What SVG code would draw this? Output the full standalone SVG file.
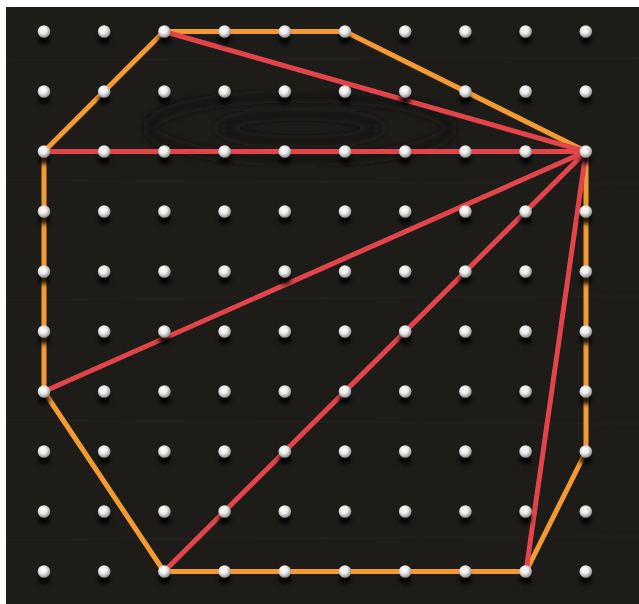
<svg xmlns="http://www.w3.org/2000/svg" width="639" height="604" viewBox="0 0 639 604">
<defs>
<radialGradient id="pegGrad" cx="0.42" cy="0.38" r="0.65">
<stop offset="0" stop-color="#ffffff"/>
<stop offset="0.45" stop-color="#ebebeb"/>
<stop offset="1" stop-color="#858585"/>
</radialGradient>
<filter id="blur" x="-1" y="-1" width="3" height="3"><feGaussianBlur stdDeviation="2.2"/></filter>
<filter id="grainBlur"><feGaussianBlur stdDeviation="4"/></filter>
<g id="peg">
<ellipse cx="0" cy="8" rx="6" ry="5" fill="#000" opacity="0.85" filter="url(#blur)"/>
<circle cx="0" cy="0" r="6.3" fill="url(#pegGrad)"/>
</g>
</defs>
<style>
.board{fill:#1d1c19}
.grain{fill:none;stroke:#181715;stroke-width:8;filter:url(#grainBlur)}
.stripe{stroke:#21201d;stroke-width:2}
.orange{fill:none;stroke:#f39b32;stroke-width:5;stroke-linejoin:round;stroke-linecap:round}
.red{fill:none;stroke:#e2444a;stroke-width:5;stroke-linecap:round}
</style>
<rect width="639" height="604" fill="#ffffff"/>
<g id="board">
<rect class="board" x="6" y="7" width="633" height="597"/>
<line class="stripe" x1="6" y1="60" x2="639" y2="58"/>
<line class="stripe" x1="6" y1="180" x2="639" y2="184"/>
<line class="stripe" x1="6" y1="300" x2="639" y2="296"/>
<line class="stripe" x1="6" y1="420" x2="639" y2="424"/>
<line class="stripe" x1="6" y1="540" x2="639" y2="536"/>
<ellipse class="grain" cx="300" cy="128" rx="150" ry="32"/>
<ellipse class="grain" cx="300" cy="128" rx="80" ry="14"/>
</g>
<g id="connectors">
<polygon id="octagon" class="orange" points="164,31.5 345,31.5 586,151.5 586,451.5 526,571.5 164,571.5 44,391.5 44,151.5"/>
<line class="red" x1="586" y1="151.5" x2="164" y2="31.5"/>
<line class="red" x1="586" y1="151.5" x2="44" y2="151.5"/>
<line class="red" x1="586" y1="151.5" x2="44" y2="391.5"/>
<line class="red" x1="586" y1="151.5" x2="164" y2="571.5"/>
<line class="red" x1="586" y1="151.5" x2="526" y2="571.5"/>
</g>
<g id="pegs">
<g id="row0"><use href="#peg" x="44" y="31.5"/><use href="#peg" x="104.2" y="31.5"/><use href="#peg" x="164.4" y="31.5"/><use href="#peg" x="224.6" y="31.5"/><use href="#peg" x="284.8" y="31.5"/><use href="#peg" x="345" y="31.5"/><use href="#peg" x="405.2" y="31.5"/><use href="#peg" x="465.4" y="31.5"/><use href="#peg" x="525.6" y="31.5"/><use href="#peg" x="585.8" y="31.5"/></g>
<g id="row1"><use href="#peg" x="44" y="91.5"/><use href="#peg" x="104.2" y="91.5"/><use href="#peg" x="164.4" y="91.5"/><use href="#peg" x="224.6" y="91.5"/><use href="#peg" x="284.8" y="91.5"/><use href="#peg" x="345" y="91.5"/><use href="#peg" x="405.2" y="91.5"/><use href="#peg" x="465.4" y="91.5"/><use href="#peg" x="525.6" y="91.5"/><use href="#peg" x="585.8" y="91.5"/></g>
<g id="row2"><use href="#peg" x="44" y="151.5"/><use href="#peg" x="104.2" y="151.5"/><use href="#peg" x="164.4" y="151.5"/><use href="#peg" x="224.6" y="151.5"/><use href="#peg" x="284.8" y="151.5"/><use href="#peg" x="345" y="151.5"/><use href="#peg" x="405.2" y="151.5"/><use href="#peg" x="465.4" y="151.5"/><use href="#peg" x="525.6" y="151.5"/><use href="#peg" x="585.8" y="151.5"/></g>
<g id="row3"><use href="#peg" x="44" y="211.5"/><use href="#peg" x="104.2" y="211.5"/><use href="#peg" x="164.4" y="211.5"/><use href="#peg" x="224.6" y="211.5"/><use href="#peg" x="284.8" y="211.5"/><use href="#peg" x="345" y="211.5"/><use href="#peg" x="405.2" y="211.5"/><use href="#peg" x="465.4" y="211.5"/><use href="#peg" x="525.6" y="211.5"/><use href="#peg" x="585.8" y="211.5"/></g>
<g id="row4"><use href="#peg" x="44" y="271.5"/><use href="#peg" x="104.2" y="271.5"/><use href="#peg" x="164.4" y="271.5"/><use href="#peg" x="224.6" y="271.5"/><use href="#peg" x="284.8" y="271.5"/><use href="#peg" x="345" y="271.5"/><use href="#peg" x="405.2" y="271.5"/><use href="#peg" x="465.4" y="271.5"/><use href="#peg" x="525.6" y="271.5"/><use href="#peg" x="585.8" y="271.5"/></g>
<g id="row5"><use href="#peg" x="44" y="331.5"/><use href="#peg" x="104.2" y="331.5"/><use href="#peg" x="164.4" y="331.5"/><use href="#peg" x="224.6" y="331.5"/><use href="#peg" x="284.8" y="331.5"/><use href="#peg" x="345" y="331.5"/><use href="#peg" x="405.2" y="331.5"/><use href="#peg" x="465.4" y="331.5"/><use href="#peg" x="525.6" y="331.5"/><use href="#peg" x="585.8" y="331.5"/></g>
<g id="row6"><use href="#peg" x="44" y="391.5"/><use href="#peg" x="104.2" y="391.5"/><use href="#peg" x="164.4" y="391.5"/><use href="#peg" x="224.6" y="391.5"/><use href="#peg" x="284.8" y="391.5"/><use href="#peg" x="345" y="391.5"/><use href="#peg" x="405.2" y="391.5"/><use href="#peg" x="465.4" y="391.5"/><use href="#peg" x="525.6" y="391.5"/><use href="#peg" x="585.8" y="391.5"/></g>
<g id="row7"><use href="#peg" x="44" y="451.5"/><use href="#peg" x="104.2" y="451.5"/><use href="#peg" x="164.4" y="451.5"/><use href="#peg" x="224.6" y="451.5"/><use href="#peg" x="284.8" y="451.5"/><use href="#peg" x="345" y="451.5"/><use href="#peg" x="405.2" y="451.5"/><use href="#peg" x="465.4" y="451.5"/><use href="#peg" x="525.6" y="451.5"/><use href="#peg" x="585.8" y="451.5"/></g>
<g id="row8"><use href="#peg" x="44" y="511.5"/><use href="#peg" x="104.2" y="511.5"/><use href="#peg" x="164.4" y="511.5"/><use href="#peg" x="224.6" y="511.5"/><use href="#peg" x="284.8" y="511.5"/><use href="#peg" x="345" y="511.5"/><use href="#peg" x="405.2" y="511.5"/><use href="#peg" x="465.4" y="511.5"/><use href="#peg" x="525.6" y="511.5"/><use href="#peg" x="585.8" y="511.5"/></g>
<g id="row9"><use href="#peg" x="44" y="571.5"/><use href="#peg" x="104.2" y="571.5"/><use href="#peg" x="164.4" y="571.5"/><use href="#peg" x="224.6" y="571.5"/><use href="#peg" x="284.8" y="571.5"/><use href="#peg" x="345" y="571.5"/><use href="#peg" x="405.2" y="571.5"/><use href="#peg" x="465.4" y="571.5"/><use href="#peg" x="525.6" y="571.5"/><use href="#peg" x="585.8" y="571.5"/></g>
</g>
</svg>
